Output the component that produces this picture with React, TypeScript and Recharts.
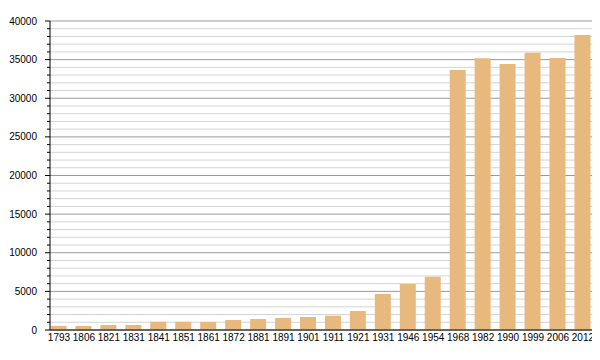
import { BarChart, Bar, XAxis, YAxis, CartesianGrid } from "recharts";

const years = [
  "1793", "1806", "1821", "1831", "1841", "1851", "1861", "1872", "1881", "1891", "1901",
  "1911", "1921", "1931", "1946", "1954", "1968", "1982", "1990", "1999", "2006", "2012",
];
const population = [
  530, 520, 650, 650, 1070, 1070, 1050, 1290, 1420, 1550, 1680,
  1850, 2460, 4660, 5950, 6900, 33650, 35170, 34430, 35900, 35210, 38190,
];
const yTicks = Array.from({ length: 41 }, (_, i) => i * 1000);

const data = years.map((year, i) => ({ year, population: population[i] }));

const AXIS_X = 50;

function YTick(props: any) {
  const { y, payload } = props;
  const major = payload.value % 5000 === 0;
  return (
    <g>
      <line x1={AXIS_X - (major ? 5 : 3)} x2={AXIS_X} y1={y} y2={y} stroke="#000" />
      {major && (
        <text x={AXIS_X - 13} y={y} dy={3.5} textAnchor="end" fontSize={10} fill="#000">
          {payload.value}
        </text>
      )}
    </g>
  );
}

function GridLine(props: any) {
  const { x1, x2, y1, y2, index } = props;
  return (
    <line
      key={`grid-${index}`}
      x1={x1}
      x2={x2}
      y1={y1}
      y2={y2}
      stroke={index % 5 === 0 ? "#9a9a9a" : "#d4d4d4"}
      strokeWidth={1}
    />
  );
}

export default function App() {
  return (
    <div style={{ margin: -8, width: 600, height: 360, background: "#fff", fontFamily: "'Liberation Sans', Arial, sans-serif" }}>
      <BarChart width={600} height={360} data={data} margin={{ top: 21, right: 8, bottom: 0, left: 0 }}>
        <CartesianGrid vertical={false} horizontal={(p: any) => <GridLine {...p} />} />
        <XAxis
          dataKey="year"
          interval={0}
          tickLine={false}
          tickSize={0}
          tickMargin={4}
          height={30}
          padding={{ left: -3.5, right: -3.4 }}
          axisLine={{ stroke: "#000" }}
          tick={{ fontSize: 10, fill: "#000" }}
        />
        <YAxis
          width={50}
          domain={[0, 40000]}
          ticks={yTicks}
          interval={0}
          tickLine={false}
          axisLine={{ stroke: "#000" }}
          tick={<YTick />}
        />
        <Bar dataKey="population" fill="#E8B97E" barSize={16} isAnimationActive={false} />
      </BarChart>
    </div>
  );
}
